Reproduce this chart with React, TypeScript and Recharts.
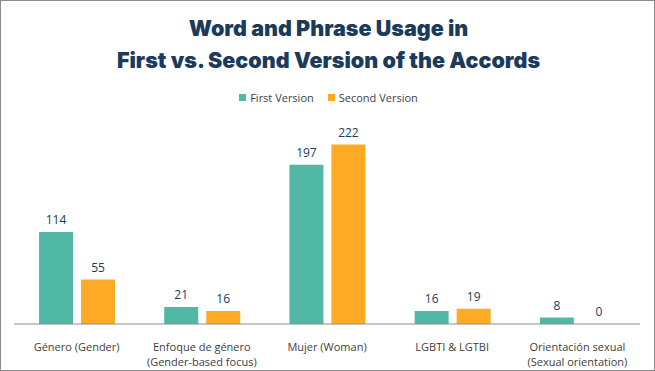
import React from "react";
import { BarChart, Bar, XAxis, YAxis, LabelList } from "recharts";

const categories = [
  "Género (Gender)",
  "Enfoque de género\n(Gender-based focus)",
  "Mujer (Woman)",
  "LGBTI & LGTBI",
  "Orientación sexual\n(Sexual orientation)",
];
const firstVersion = [114, 21, 197, 16, 8];
const secondVersion = [55, 16, 222, 19, 0];

const data = categories.map((c, i) => ({
  name: c,
  first: firstVersion[i],
  second: secondVersion[i],
}));

const TEAL = "#52B8A6";
const ORANGE = "#FEAA25";
const NAVY = "#1B3A5C";
const FONT = "'Open Sans', 'Liberation Sans', sans-serif";

const Tick = (props: any) => {
  const { x, y, payload } = props;
  const lines = String(payload.value).split("\n");
  return (
    <g transform={`translate(${x},${y})`}>
      {lines.map((l, i) => (
        <text
          key={i}
          x={0}
          y={0}
          dy={19 + i * 15}
          textAnchor="middle"
          fill="#404040"
          fontSize={11}
          fontFamily={FONT}
        >
          {l}
        </text>
      ))}
    </g>
  );
};

export default function App() {
  return (
    <div
      style={{
        position: "fixed",
        left: 0,
        top: 0,
        width: 655,
        height: 371,
        background: "#fff",
        boxSizing: "border-box",
        border: "1px solid #8C8C8C",
      }}
    >
      <div
        style={{
          position: "absolute",
          left: 0,
          top: 11,
          width: 655,
          textAlign: "center",
          fontFamily: "Inter, sans-serif",
          fontWeight: 900,
          fontSize: 21.5,
          lineHeight: "32px",
          color: NAVY,
        }}
      >
        Word and Phrase Usage in
        <br />
        First vs. Second Version of the Accords
      </div>
      <div
        style={{
          position: "absolute",
          left: 0,
          top: 89,
          width: 655,
          display: "flex",
          justifyContent: "center",
          fontFamily: FONT,
          fontSize: 11,
          color: "#404040",
          lineHeight: "15px",
        }}
      >
        <span style={{ display: "flex", alignItems: "center", marginRight: 14 }}>
          <span style={{ width: 7, height: 7, background: TEAL, marginRight: 4, display: "inline-block" }} />
          First Version
        </span>
        <span style={{ display: "flex", alignItems: "center" }}>
          <span style={{ width: 7, height: 7, background: ORANGE, marginRight: 4, display: "inline-block" }} />
          Second Version
        </span>
      </div>
      <div style={{ position: "absolute", left: -1, top: -1 }}>
        <BarChart
          width={655}
          height={371}
          data={data}
          margin={{ top: 122, right: 15, bottom: 0, left: 14 }}
          barCategoryGap="20%"
          barGap={8}
        >
          <XAxis
            dataKey="name"
            interval={0}
            tickLine={false}
            axisLine={{ stroke: "#8C8C8C", strokeWidth: 1 }}
            tick={<Tick />}
            height={47}
          />
          <YAxis hide domain={[0, 250]} />
          <Bar dataKey="first" fill={TEAL} isAnimationActive={false} minPointSize={0.01}>
            <LabelList dataKey="first" position="top" offset={8} fill={NAVY} fontSize={12} fontFamily={FONT} />
          </Bar>
          <Bar dataKey="second" fill={ORANGE} isAnimationActive={false} minPointSize={0.01}>
            <LabelList dataKey="second" position="top" offset={8} fill={NAVY} fontSize={12} fontFamily={FONT} />
          </Bar>
        </BarChart>
      </div>
    </div>
  );
}
